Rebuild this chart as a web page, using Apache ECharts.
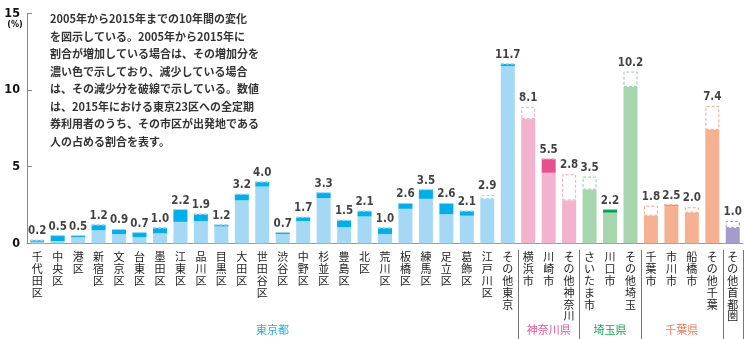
<!DOCTYPE html>
<html><head><meta charset="utf-8">
<script src="https://cdn.jsdelivr.net/npm/echarts@6/dist/echarts.min.js"></script>
<style>html,body{margin:0;padding:0;background:#fff}#c{width:750px;height:339px}</style>
</head><body><div id="c"></div>
<script>
const categories = ['千代田区','中央区','港区','新宿区','文京区','台東区','墨田区','江東区','品川区','目黒区','大田区','世田谷区','渋谷区','中野区','杉並区','豊島区','北区','荒川区','板橋区','練馬区','足立区','葛飾区','江戸川区','その他東京','横浜市','川崎市','その他神奈川','さいたま市','川口市','その他埼玉','千葉市','市川市','船橋市','その他千葉','その他首都圏'];
const value2015 = [0.2,0.5,0.5,1.2,0.9,0.7,1.0,2.2,1.9,1.2,3.2,4.0,0.7,1.7,3.3,1.5,2.1,1.0,2.6,3.5,2.6,2.1,2.9,11.7,8.1,5.5,2.8,3.5,2.2,10.2,1.8,2.5,2.0,7.4,1.0];
const value2005 = [0.1,0.15,0.4,0.85,0.6,0.4,0.65,1.4,1.45,1.1,2.8,3.7,0.6,1.45,2.95,1.05,1.75,0.6,2.25,2.9,1.9,1.8,3.15,11.55,8.9,4.6,4.5,4.35,2.0,11.2,2.45,2.43,2.35,8.95,1.45];
const groupNames = ['東京都','神奈川県','埼玉県','千葉県',''];
const groupSizes = [24,3,3,4,1];
const yTicks = [0,5,10,15];
const noteLines = [
 '2005年から2015年までの10年間の変化',
 'を図示している。2005年から2015年に',
 '割合が増加している場合は、その増加分を',
 '濃い色で示しており、減少している場合',
 'は、その減少分を破線で示している。数値',
 'は、2015年における東京23区への全定期',
 '券利用者のうち、その市区が出発地である',
 '人の占める割合を表す。'
];
const lightColors = ['#a5d8f4','#f3b3cf','#a6d5ae','#f6b193','#a69bcb'];
const darkColors  = ['#00aeea','#e5508e','#00a04f','#f07a58','#7e6fb5'];
const dashColors  = ['#9fd3f0','#f2a6c6','#93cc9d','#f4a485','#9f94c6'];
const groupLabelColors = ['#22b0e6','#e5579a','#16a552','#f07a58','#7e6fb5'];

const groupIndex = [];
groupSizes.forEach((n,g)=>{for(let k=0;k<n;k++) groupIndex.push(g);});

const base = value2015.map((v,i)=>Math.min(v,value2005[i]));
const inc = value2015.map((v,i)=>Math.max(0,+(v-value2005[i]).toFixed(3)));
const dec = value2015.map((v,i)=>Math.max(0,+(value2005[i]-v).toFixed(3)));
const tops = value2015.map((v,i)=>Math.max(v,value2005[i]));

const numFont = '"DejaVu Sans Condensed",Roboto,sans-serif';
const jpFont = '"Noto Sans CJK JP",sans-serif';

const chart = echarts.init(document.getElementById('c'));
const option = {
  animation:false,
  grid:{left:27,right:7,top:13.3,bottom:95.7},
  xAxis:{type:'category',data:categories,
    axisLine:{lineStyle:{color:'#9a9a9a',width:1}},
    axisTick:{show:false},
    axisLabel:{interval:0,formatter:s=>s.split('').join('\n'),fontSize:11,lineHeight:11.8,color:'#222',margin:8,verticalAlign:'top',fontFamily:jpFont}
  },
  yAxis:{type:'value',min:yTicks[0],max:yTicks[yTicks.length-1],interval:5,
    axisLine:{show:true,lineStyle:{color:'#888'}},
    axisTick:{show:true,inside:true,length:5,lineStyle:{color:'#888'}},
    splitLine:{show:false},
    axisLabel:{fontSize:12.5,fontWeight:'bold',color:'#111',margin:7,fontFamily:numFont}
  },
  series:[
    {type:'bar',stack:'a',barWidth:14,data:base.map((v,i)=>({value:v,itemStyle:{color:lightColors[groupIndex[i]]}}))},
    {type:'bar',stack:'a',barWidth:14,data:inc.map((v,i)=>({value:v,itemStyle:{color:darkColors[groupIndex[i]]}}))},
    {type:'bar',stack:'a',barWidth:14,data:dec.map((v,i)=>({value:v,itemStyle:{color:'rgba(255,255,255,0)',borderColor:dashColors[groupIndex[i]],borderWidth:1,borderType:[3,2]}}))},
    {type:'scatter',symbolSize:0,silent:true,data:tops.map((v,i)=>[i,v]),
      label:{show:true,position:'top',distance:3,formatter:p=>value2015[p.dataIndex].toFixed(1),fontSize:11.5,fontWeight:'bold',color:'#111',fontFamily:numFont}}
  ]
};
chart.setOption(option);

const px = i => chart.convertToPixel({xAxisIndex:0}, i);
const half = (px(1)-px(0))/2;
const graphics = [];
noteLines.forEach((t,i)=>{
  graphics.push({type:'text',left:50,top:20.7+i*17.5-7,style:{text:t,font:'bold 11px '+jpFont,fill:'#333'}});
});
graphics.push({type:'text',x:15,y:25,style:{text:'(%)',font:'bold 9px '+numFont,fill:'#111',textAlign:'center',textVerticalAlign:'middle'}});
let start = 0;
groupSizes.forEach((n,g)=>{
  const x0 = px(start)-half, x1 = px(start+n-1)+half;
  const xs = Math.round(x1)+0.5;
  graphics.push({type:'line',shape:{x1:xs,y1:250,x2:xs,y2:339},style:{stroke:'#777',lineWidth:1}});
  if(groupNames[g]) graphics.push({type:'text',x:(x0+x1)/2,y:330,style:{text:groupNames[g],font:'11px '+jpFont,fill:groupLabelColors[g],textAlign:'center',textVerticalAlign:'middle'}});
  start += n;
});
chart.setOption({graphic:graphics});
</script></body></html>
